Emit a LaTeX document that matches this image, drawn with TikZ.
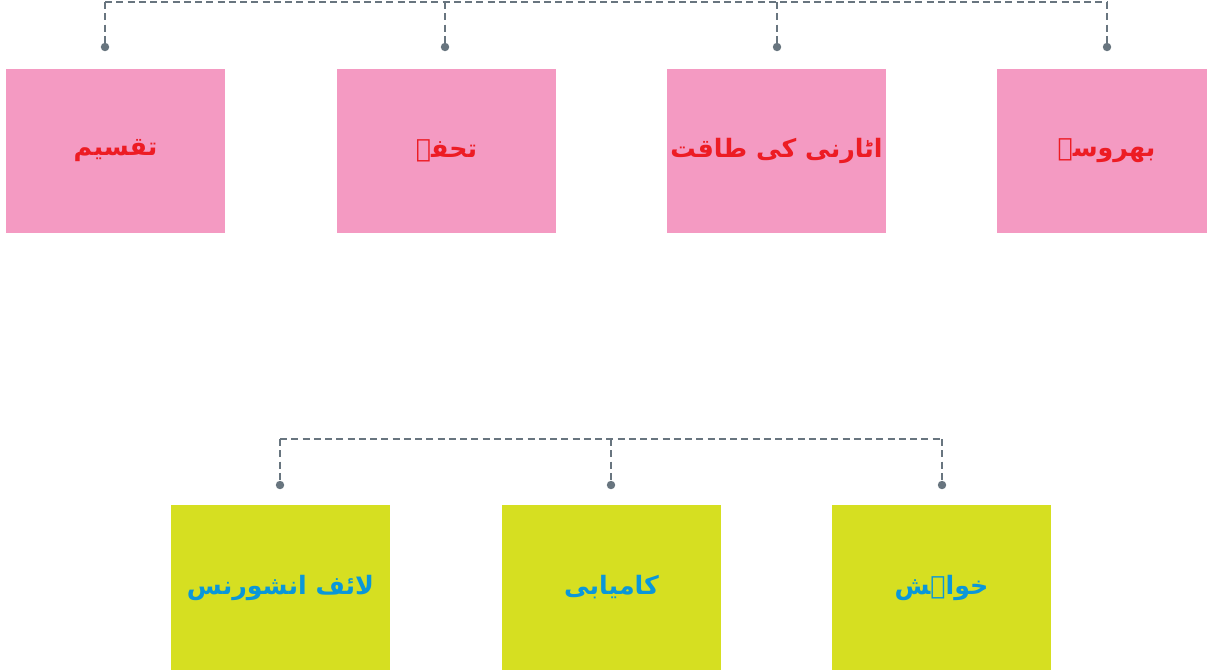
\documentclass[tikz,border=0pt]{standalone}
\usepackage{fontspec}
\usepackage{tikz}
\TeXXeTstate=1
\newfontfamily\urdufont[Script=Arabic]{DejaVu Sans}

\definecolor{boxpink}{HTML}{F49AC2}
\definecolor{boxlime}{HTML}{D6DF21}
\definecolor{labelred}{HTML}{ED1C24}
\definecolor{labelblue}{HTML}{0A97D9}
\definecolor{busgray}{HTML}{68757F}

\begin{document}
\begin{tikzpicture}[x=0.01cm,y=-0.01cm,
    card/.style={minimum width=2.19cm, minimum height=1.64cm, inner sep=0pt,
        font=\urdufont\bfseries\fontsize{7.2}{9}\selectfont},
    pinkcard/.style={card, fill=boxpink, text=labelred},
    limecard/.style={card, fill=boxlime, text=labelblue},
    bus/.style={busgray, line width=0.6pt, dash pattern=on 2pt off 1.2pt}]
    \useasboundingbox (0,0) rectangle (1207,669);

    % Top row of cards
    \node[pinkcard] (taqseem) at (115.5,151) {\beginR تقسیم\endR};
    \node[pinkcard] (tohfa) at (446.5,151) {\beginR تحفہ\endR};
    \node[pinkcard] (attorney) at (776.5,151) {\beginR اٹارنی کی طاقت\endR};
    \node[pinkcard] (bharosa) at (1106.5,151) {\beginR بھروسہ\endR};

    % Bottom row of cards
    \node[limecard] (insurance) at (280.5,587.5) {\beginR لائف انشورنس\endR};
    \node[limecard] (kamyabi) at (611.5,587.5) {\beginR کامیابی\endR};
    \node[limecard] (khwahish) at (941.5,587.5) {\beginR خواہش\endR};

    % Dashed bus over the top row
    \foreach \n/\x in {1/105,2/445,3/777,4/1107} {
        \coordinate (ttop\n) at (\x,2);
        \coordinate (tdot\n) at (\x,47);
        \draw[bus] (ttop\n) -- (tdot\n);
        \fill[busgray] (tdot\n) circle (1.2pt);
    }
    \draw[bus] (ttop1) -- (ttop4);

    % Dashed bus over the bottom row
    \foreach \n/\x in {1/280,2/611,3/942} {
        \coordinate (btop\n) at (\x,439);
        \coordinate (bdot\n) at (\x,485);
        \draw[bus] (btop\n) -- (bdot\n);
        \fill[busgray] (bdot\n) circle (1.2pt);
    }
    \draw[bus] (btop1) -- (btop3);
\end{tikzpicture}
\end{document}
